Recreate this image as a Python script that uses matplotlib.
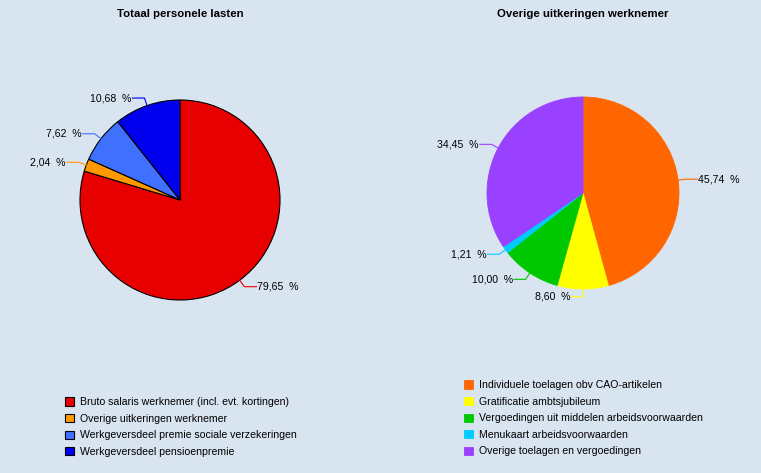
import numpy as np
import matplotlib.pyplot as plt

plt.rcParams['font.family'] = ['Liberation Sans', 'DejaVu Sans']

left_title = "Totaal personele lasten"
left_labels = ["Bruto salaris werknemer (incl. evt. kortingen)",
               "Overige uitkeringen werknemer",
               "Werkgeversdeel premie sociale verzekeringen",
               "Werkgeversdeel pensioenpremie"]
left_values = [79.65, 2.04, 7.62, 10.68]
left_colors = ["#E80000", "#FF9900", "#4070FF", "#0000EE"]

right_title = "Overige uitkeringen werknemer"
right_labels = ["Individuele toelagen obv CAO-artikelen",
                "Gratificatie ambtsjubileum",
                "Vergoedingen uit middelen arbeidsvoorwaarden",
                "Menukaart arbeidsvoorwaarden",
                "Overige toelagen en vergoedingen"]
right_values = [45.74, 8.60, 10.00, 1.21, 34.45]
right_colors = ["#FF6600", "#FFFF00", "#00C800", "#00CCFF", "#9A40FF"]

W, H = 761, 473
bg = "#D9E4F1"
fig = plt.figure(figsize=(W / 100, H / 100), dpi=100, facecolor=bg)


def make_pie(cx, cy, r, values, colors, edge, title):
    half = 1.6
    ax = fig.add_axes([(cx - r * half) / W, 1 - (cy + r * half) / H,
                       2 * r * half / W, 2 * r * half / H])
    if edge:
        wp = dict(linewidth=0.8, edgecolor=edge)
    else:
        wp = dict(linewidth=0.6)
    wedges, _ = ax.pie(values, colors=colors, startangle=90, counterclock=False,
                       radius=1, wedgeprops=wp)
    ax.set_xlim(-half, half)
    ax.set_ylim(-half, half)
    ax.axis('off')
    if not edge:
        for w, c in zip(wedges, colors):
            w.set_edgecolor(c)
    for w, v, c in zip(wedges, values, colors):
        th = np.deg2rad((w.theta1 + w.theta2) / 2)
        x0, y0 = np.cos(th), np.sin(th)
        x1, y1 = 1.08 * x0, 1.08 * y0
        s = 1 if x0 >= 0 else -1
        x2 = x1 + s * 0.12
        ax.plot([x0, x1, x2], [y0, y1, y1], color=c, lw=0.8, clip_on=False)
        txt = f"{v:.2f}".replace(".", ",") + "  %"
        ax.text(x2 + s * 0.01, y1, txt, ha='left' if s > 0 else 'right',
                va='center', fontsize=7.6)
    fig.text(cx / W, 1 - 14 / H, title, ha='center', va='center',
             fontsize=8.2, fontweight='bold')
    return wedges


lw = make_pie(180, 200, 100, left_values, left_colors, "black", left_title)
rw = make_pie(583, 193, 96, right_values, right_colors, None, right_title)

leg_kw = dict(loc='upper left', frameon=False, fontsize=7.6, handlelength=0.85,
              handleheight=0.85, handletextpad=0.5, labelspacing=0.62,
              borderpad=0)
fig.legend(lw, left_labels, bbox_to_anchor=(60 / W, 1 - 392 / H), **leg_kw)
fig.legend(rw, right_labels, bbox_to_anchor=(459 / W, 1 - 375 / H), **leg_kw)

fig.savefig("out.png", dpi=100, facecolor=bg)
